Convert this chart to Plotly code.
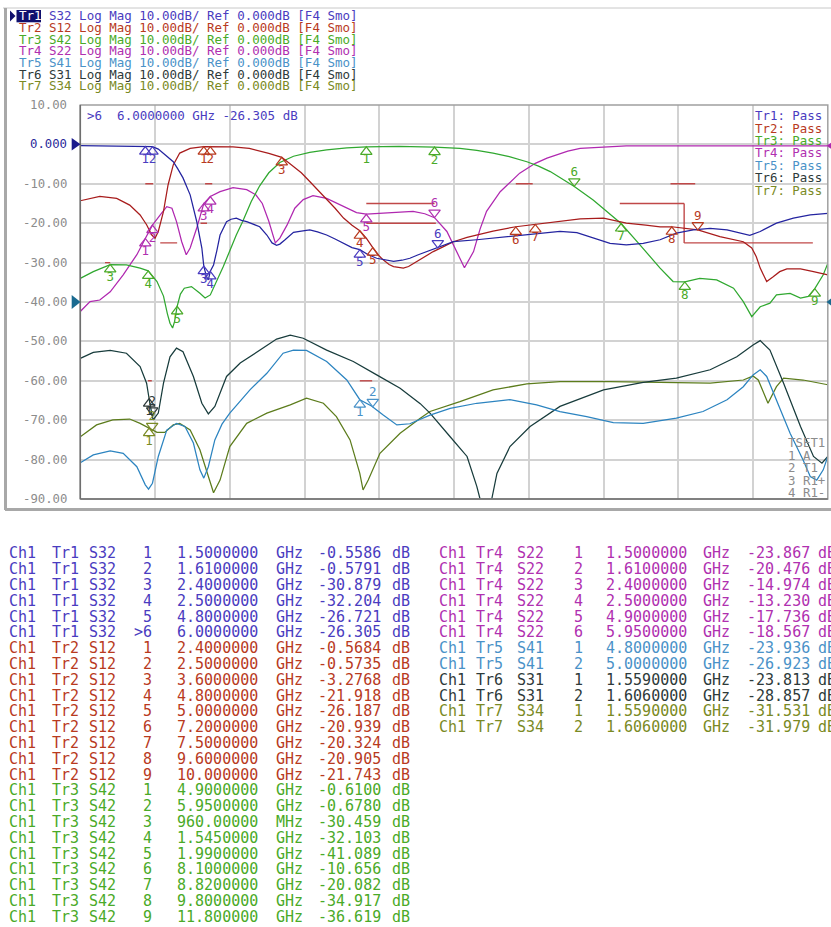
import plotly.graph_objects as go

W, H = 831, 927
MONO = "DejaVu Sans Mono"

# ---------------- axes ----------------
freq_range = [0.5, 12.0]          # GHz
db_range = [-90, 10]              # dB
ytick_vals = [10, 0, -10, -20, -30, -40, -50, -60, -70, -80, -90]
ytick_text = ["10.00", "0.000", "-10.00", "-20.00", "-30.00", "-40.00",
              "-50.00", "-60.00", "-70.00", "-80.00", "-90.00"]

# ---------------- traces ----------------
trace_names = ["Tr1", "Tr2", "Tr3", "Tr4", "Tr5", "Tr6", "Tr7"]
trace_params = ["S32", "S12", "S42", "S22", "S41", "S31", "S34"]
line_colors = ["#2424a0", "#a81c1c", "#30a830", "#b028b0", "#2c84c0", "#183c3c", "#5c7c1c"]
text_colors = ["#4a3cc0", "#b83a1e", "#4aaa28", "#b030b0", "#4a92c8", "#2e3a3a", "#7a8a24"]

tr1_f = [0.5, 0.8, 1.2, 1.5, 1.61, 1.7, 1.77, 1.85, 1.93, 2.0, 2.08, 2.19, 2.29, 2.37, 2.4, 2.44,
         2.47, 2.5, 2.55, 2.6, 2.65, 2.75, 2.82, 2.9, 2.98, 3.06, 3.15, 3.26, 3.37, 3.45, 3.52,
         3.57, 3.65, 3.78, 3.9, 4.03, 4.15, 4.29, 4.42, 4.55, 4.68, 4.8, 4.93, 5.06, 5.2, 5.32,
         5.45, 5.57, 5.7, 5.83, 6.0, 6.24, 6.6, 6.85, 7.1, 7.37, 7.6, 7.88, 8.14, 8.39, 8.65,
         8.9, 9.16, 9.42, 9.67, 9.93, 10.19, 10.45, 10.7, 10.8, 10.96, 11.21, 11.47, 11.73, 12.0]
tr1_v = [-0.3, -0.4, -0.5, -0.56, -0.58, -1.2, -2.2, -3.2, -4.4, -6.2, -8.5, -12.8, -19.5, -26.3,
         -30.9, -33.5, -34.4, -32.2, -30.6, -27.0, -23.0, -19.6, -19.0, -18.7, -19.3, -19.6, -20.2,
         -20.9, -23.0, -25.0, -25.6, -25.3, -24.2, -22.3, -22.0, -21.7, -22.2, -23.0, -24.0, -25.1,
         -26.2, -26.7, -28.0, -28.9, -29.4, -29.7, -29.4, -28.9, -28.0, -27.2, -26.3, -24.7, -24.2,
         -23.8, -23.4, -23.0, -22.5, -22.1, -22.4, -23.8, -25.1, -25.5, -25.1, -24.2, -22.5, -21.7,
         -21.3, -21.7, -22.8, -23.1, -22.1, -20.0, -18.7, -17.9, -17.5]

tr2_f = [0.5, 0.8, 1.06, 1.26, 1.42, 1.52, 1.6, 1.65, 1.7, 1.74, 1.78, 1.85, 1.93, 2.03, 2.19,
         2.4, 2.5, 2.85, 3.1, 3.26, 3.4, 3.6, 3.78, 3.9, 4.03, 4.15, 4.29, 4.42, 4.55, 4.68, 4.8,
         4.9, 5.0, 5.08, 5.16, 5.25, 5.32, 5.4, 5.47, 5.55, 5.68, 5.8, 5.93, 6.08, 6.24, 6.45, 6.6,
         6.85, 7.2, 7.5, 7.88, 8.19, 8.55, 8.9, 9.2, 9.42, 9.6, 10.0, 10.34, 10.7, 10.83, 10.9,
         10.96, 11.06, 11.16, 11.26, 11.37, 11.58, 11.78, 12.0]
tr2_v = [-14.3, -13.2, -13.7, -15.4, -17.9, -20.4, -23.0, -23.8, -22.1, -19.5, -17.0, -10.3, -5.2,
         -2.2, -1.0, -0.57, -0.57, -0.6, -1.0, -1.6, -2.3, -3.28, -5.6, -7.2, -9.4, -11.5, -13.7,
         -16.2, -18.7, -20.5, -21.9, -23.8, -26.2, -28.0, -29.3, -30.5, -31.0, -31.3, -31.4, -31.0,
         -29.7, -28.5, -27.2, -26.0, -24.7, -23.6, -23.0, -22.0, -20.9, -20.3, -19.6, -18.9, -18.7,
         -20.0, -20.5, -20.9, -20.9, -21.7, -23.4, -24.7, -26.3, -28.5, -31.4, -34.8, -33.6, -32.3,
         -31.6, -31.6, -32.3, -33.1]

tr3_f = [0.5, 0.7, 0.96, 1.21, 1.42, 1.545, 1.68, 1.78, 1.84, 1.88, 1.92, 1.95, 1.99, 2.04, 2.1,
         2.21, 2.34, 2.42, 2.5, 2.6, 2.7, 2.8, 2.9, 3.0, 3.13, 3.26, 3.4, 3.57, 3.78, 4.03, 4.29,
         4.6, 4.9, 5.4, 5.95, 6.34, 6.6, 6.85, 7.1, 7.37, 7.55, 7.73, 7.88, 8.1, 8.39, 8.6, 8.82,
         9.11, 9.3, 9.42, 9.62, 9.8, 10.03, 10.29, 10.55, 10.7, 10.83, 10.96, 11.11, 11.21, 11.42,
         11.58, 11.7, 11.8, 11.93, 12.0]
tr3_v = [-34.0, -32.3, -30.5, -30.6, -31.4, -32.1, -34.8, -38.5, -43.0, -45.4, -46.6, -45.0, -41.1,
         -38.0, -36.5, -36.1, -37.8, -39.0, -38.2, -34.8, -31.0, -27.0, -23.0, -19.5, -14.5, -10.5,
         -7.2, -4.6, -3.0, -2.0, -1.4, -0.9, -0.61, -0.5, -0.68, -1.0, -1.5, -2.2, -3.1, -4.4, -5.5,
         -6.9, -8.4, -10.66, -14.1, -17.0, -20.08, -25.5, -29.0, -31.4, -34.8, -34.9, -34.0, -34.4,
         -36.5, -39.9, -43.7, -41.2, -40.3, -38.2, -37.8, -39.0, -38.6, -36.6, -33.1, -30.2]

tr4_f = [0.5, 0.65, 0.8, 0.96, 1.16, 1.37, 1.5, 1.61, 1.73, 1.83, 1.91, 1.98, 2.06, 2.13, 2.19,
         2.29, 2.4, 2.5, 2.65, 2.85, 3.06, 3.2, 3.3, 3.4, 3.5, 3.57, 3.68, 3.8, 3.93, 4.08, 4.29,
         4.55, 4.75, 4.9, 5.1, 5.32, 5.62, 5.8, 5.95, 6.14, 6.29, 6.41, 6.55, 6.65, 6.75, 6.96,
         7.26, 7.5, 7.68, 8.0, 8.19, 8.39, 8.9, 10.0, 12.0]
tr4_v = [-42.4, -39.9, -39.5, -37.4, -33.1, -28.0, -23.9, -20.5, -17.9, -15.8, -16.2, -19.6, -24.7,
         -28.0, -26.3, -21.3, -15.0, -13.2, -12.0, -11.0, -11.5, -12.8, -15.0, -19.5, -25.0, -23.8,
         -20.5, -16.2, -14.0, -13.0, -13.7, -15.8, -17.3, -17.7, -17.5, -17.2, -17.0, -17.6, -18.6,
         -22.1, -27.2, -31.3, -27.2, -21.5, -17.0, -12.0, -7.3, -4.8, -3.5, -1.7, -1.0, -0.8, -0.4,
         -0.4, -0.4]

tr5_f = [0.5, 0.7, 0.96, 1.16, 1.37, 1.5, 1.55, 1.61, 1.7, 1.83, 1.98, 2.11, 2.24, 2.34, 2.4, 2.47,
         2.57, 2.68, 2.8, 3.11, 3.37, 3.62, 3.78, 3.98, 4.29, 4.6, 4.8, 4.98, 5.16, 5.37, 5.57,
         5.88, 6.19, 6.6, 7.11, 7.52, 7.88, 8.29, 8.7, 9.16, 9.67, 10.08, 10.45, 10.7, 10.85, 10.96,
         11.06, 11.21, 11.42, 11.62, 11.73, 11.83, 11.93, 12.0]
tr5_v = [-80.8, -78.8, -77.8, -78.4, -81.8, -86.4, -87.5, -86.0, -79.2, -72.5, -70.8, -71.6, -75.8,
         -82.6, -84.7, -81.8, -75.0, -71.0, -68.2, -62.3, -58.1, -53.0, -52.2, -52.3, -55.1, -59.8,
         -64.8, -66.4, -68.7, -71.2, -70.9, -68.7, -67.0, -65.7, -64.8, -66.1, -67.8, -69.1, -70.6,
         -70.8, -69.5, -67.8, -64.8, -61.5, -58.5, -57.2, -58.9, -64.8, -73.3, -80.1, -84.3, -85.2,
         -82.6, -79.2]

tr6_f = [0.5, 0.7, 0.96, 1.21, 1.42, 1.52, 1.57, 1.62, 1.7, 1.78, 1.88, 1.98, 2.08, 2.24, 2.37,
         2.47, 2.57, 2.75, 2.96, 3.26, 3.52, 3.73, 3.93, 4.29, 4.7, 5.06, 5.42, 5.73, 5.88, 6.19,
         6.45, 6.6, 6.65, 6.83, 6.91, 7.11, 7.42, 7.88, 8.55, 9.16, 9.67, 10.19, 10.6, 10.85, 10.96,
         11.11, 11.32, 11.58, 11.78, 11.91, 12.0]
tr6_v = [-54.3, -52.8, -52.3, -53.0, -56.4, -60.6, -65.7, -69.9, -68.2, -60.6, -53.9, -51.7, -52.6,
         -58.9, -65.7, -68.4, -66.5, -58.9, -55.5, -52.2, -49.4, -48.4, -49.2, -52.2, -55.1, -58.5,
         -61.9, -65.8, -68.2, -74.2, -79.2, -86.8, -90.0, -90.0, -83.5, -76.7, -71.6, -66.5, -62.3,
         -60.4, -59.3, -57.2, -53.9, -50.9, -49.8, -52.2, -60.6, -71.6, -79.2, -80.9, -79.2]

tr7_f = [0.5, 0.75, 1.0, 1.26, 1.42, 1.55, 1.68, 1.8, 1.93, 2.03, 2.19, 2.34, 2.47, 2.55, 2.65, 2.8,
         3.06, 3.37, 3.73, 3.98, 4.24, 4.44, 4.65, 4.8, 4.85, 4.93, 5.11, 5.42, 5.73, 5.88, 6.34,
         6.85, 7.37, 7.88, 8.65, 9.42, 10.19, 10.7, 10.85, 10.93, 11.08, 11.21, 11.32, 11.62, 12.0]
tr7_v = [-74.2, -71.2, -69.9, -69.7, -70.8, -72.0, -73.1, -73.1, -71.2, -70.8, -72.5, -77.5, -84.3,
         -88.4, -85.2, -76.7, -70.8, -68.2, -66.1, -64.4, -65.7, -69.1, -75.0, -83.5, -87.7, -85.2,
         -78.4, -73.3, -69.5, -67.8, -65.3, -62.3, -60.8, -60.2, -60.2, -60.4, -60.6, -59.8, -58.8,
         -59.8, -65.7, -61.5, -59.3, -59.8, -61.0]

trace_f = [tr1_f, tr2_f, tr3_f, tr4_f, tr5_f, tr6_f, tr7_f]
trace_v = [tr1_v, tr2_v, tr3_v, tr4_v, tr5_v, tr6_v, tr7_v]

# ---------------- markers (table values) ----------------
tr1_mk_f = [1.5, 1.61, 2.4, 2.5, 4.8, 6.0]
tr1_mk_v = [-0.5586, -0.5791, -30.879, -32.204, -26.721, -26.305]
tr2_mk_f = [2.4, 2.5, 3.6, 4.8, 5.0, 7.2, 7.5, 9.6, 10.0]
tr2_mk_v = [-0.5684, -0.5735, -3.2768, -21.918, -26.187, -20.939, -20.324, -20.905, -21.743]
tr3_mk_f = [4.9, 5.95, 0.96, 1.545, 1.99, 8.1, 8.82, 9.8, 11.8]
tr3_mk_v = [-0.6100, -0.6780, -30.459, -32.103, -41.089, -10.656, -20.082, -34.917, -36.619]
tr4_mk_f = [1.5, 1.61, 2.4, 2.5, 4.9, 5.95]
tr4_mk_v = [-23.867, -20.476, -14.974, -13.230, -17.736, -18.567]
tr5_mk_f = [4.8, 5.0]
tr5_mk_v = [-23.936, -26.923]
tr6_mk_f = [1.559, 1.606]
tr6_mk_v = [-23.813, -28.857]
tr7_mk_f = [1.559, 1.606]
tr7_mk_v = [-31.531, -31.979]
# positions of the on-screen markers for Tr5..Tr7 as drawn
tr5_mk_plot_v = [-64.8, -66.6]
tr6_mk_plot_v = [-64.5, -68.8]
tr7_mk_plot_v = [-72.0, -72.7]
active_marker = [5, 8, 5, 5, 1, 1, 1]

mk_f = [tr1_mk_f, tr2_mk_f, tr3_mk_f, tr4_mk_f, tr5_mk_f, tr6_mk_f, tr7_mk_f]
mk_v = [tr1_mk_v, tr2_mk_v, tr3_mk_v, tr4_mk_v, tr5_mk_v, tr6_mk_v, tr7_mk_v]
mk_plot_v = [tr1_mk_v, tr2_mk_v, tr3_mk_v, tr4_mk_v, tr5_mk_plot_v, tr6_mk_plot_v, tr7_mk_plot_v]

# limit-line segments (GHz start, GHz end, dB start, dB end)
lim_f1 = [1.5, 2.42, 0.88, 1.73, 2.35, 4.9, 4.9, 7.2, 9.58, 8.8, 9.79, 9.79, 1.54, 4.8]
lim_f2 = [1.62, 2.53, 0.96, 1.99, 2.45, 5.95, 5.97, 7.46, 9.96, 9.79, 9.79, 11.77, 1.60, 4.99]
lim_v1 = [-10, -10, -30, -25, -20, -15, -20, -10, -10, -15, -15, -25, -60, -60]
lim_v2 = [-10, -10, -30, -25, -20, -15, -20, -10, -10, -15, -25, -25, -60, -60]

tset_lines = ["TSET1", "1 A", "2 T1", "3 R1+", "4 R1-"]
readout = ">6  6.0000000 GHz -26.305 dB"

# ---------------- pixel helpers (layout only) ----------------
PX0, PX1, PY0, PY1 = 80.3, 827.8, 105.0, 499.0


def xp(x):
    return x / W


def yp(y):
    return 1 - y / H


def ann(x, y, text, color, size, xanchor="left"):
    return dict(x=xp(x), y=yp(y), xref="paper", yref="paper", text=text,
                showarrow=False, xanchor=xanchor, yanchor="middle", borderpad=0,
                font=dict(family=MONO, size=size, color=color))


fig = go.Figure()

# limit lines
lx, ly = [], []
for a, b, c, d in zip(lim_f1, lim_f2, lim_v1, lim_v2):
    lx += [a, b, None]
    ly += [c, d, None]
fig.add_trace(go.Scatter(x=lx, y=ly, mode="lines", line=dict(color="#c04848", width=1.4),
                         hoverinfo="skip", showlegend=False))

# traces (draw Tr7..Tr1 so Tr1 is on top)
for i in reversed(range(7)):
    fig.add_trace(go.Scatter(x=trace_f[i], y=trace_v[i], mode="lines",
                             line=dict(color=line_colors[i], width=1.25),
                             name=trace_names[i], showlegend=False))

# on-plot markers
for i in range(7):
    n = len(mk_f[i])
    act = active_marker[i]
    labels = [str(k + 1) for k in range(n)]
    angles = [180 if k == act else 0 for k in range(n)]
    tpos = ["top center" if k == act else "bottom center" for k in range(n)]
    fig.add_trace(go.Scatter(
        x=mk_f[i], y=mk_plot_v[i], mode="markers+text", text=labels, textposition=tpos,
        marker=dict(symbol="triangle-up-open", size=10, color=text_colors[i],
                    angle=angles, standoff=5, line=dict(width=1.2, color=text_colors[i])),
        textfont=dict(family=MONO, size=12.5, color=text_colors[i]),
        cliponaxis=False, hoverinfo="skip", showlegend=False))

# marker indicator row under the grid
for i in range(7):
    n = len(mk_f[i])
    act = active_marker[i]
    syms = ["triangle-up" if k == act else "triangle-up-open" for k in range(n)]
    fig.add_trace(go.Scatter(
        x=mk_f[i], y=[-91.6] * n, mode="markers",
        marker=dict(symbol=syms, size=12, color=line_colors[i],
                    line=dict(width=1, color=line_colors[i]), opacity=0.75),
        cliponaxis=False, hoverinfo="skip", showlegend=False))

annotations = []
# y tick labels
for v, t in zip(ytick_vals, ytick_text):
    col = "#2a2a9a" if v == 0 else "#8c8c8c"
    annotations.append(dict(x=xp(67.5), y=v, xref="paper", yref="y", text=t, showarrow=False,
                            xanchor="right", yanchor="middle", borderpad=0,
                            font=dict(family=MONO, size=12.3, color=col)))

# header lines
for i in range(7):
    y = 16 + 11.65 * i
    rest = f"{trace_params[i]} Log Mag 10.00dB/ Ref 0.000dB [F4 Smo]"
    tcol = "#ffffff" if i == 0 else text_colors[i]
    annotations.append(ann(17.5, y, trace_names[i], tcol, 12.5))
    annotations.append(ann(47.8, y, rest, text_colors[i], 12.5))

# readout
annotations.append(ann(85.5, 115, readout, "#4a3cc0", 12.5))

# pass legend
for i in range(7):
    annotations.append(ann(753.5, 115.7 + 12.4 * i, f"{trace_names[i]}: Pass", text_colors[i], 12.4))

# TSET block
for i, t in enumerate(tset_lines):
    annotations.append(ann(787, 442.7 + 12.5 * i, t, "#8c8c8c", 12.4))


# marker table
def fmt_freq(f):
    if f < 1:
        val, unit = f * 1000, "MHz"
    else:
        val, unit = f, "GHz"
    ip = len(str(int(val)))
    return f"{val:.{8 - ip}f}", unit


def fmt_db(v):
    ip = len(str(int(abs(v))))
    return f"{v:.{5 - ip}f}"


left_cols = dict(ch=7.5, tr=51, s=87.5, num=153, fr=176, unit=274.5, val=382, db=391)
right_cols = dict(ch=437.5, tr=474.5, s=516, num=584, fr=604.5, unit=702, val=811, db=817)
rows_left = [0, 1, 2]
rows_right = [3, 4, 5, 6]


def add_table(trace_ids, cols):
    r = 0
    for i in trace_ids:
        for k in range(len(mk_f[i])):
            y = 553.3 + 15.8 * r
            c = text_colors[i]
            fz = 15
            num = (">" if k == active_marker[i] and i == 0 else "") + str(k + 1)
            fs, unit = fmt_freq(mk_f[i][k])
            annotations.append(ann(cols["ch"], y, "Ch1", c, fz))
            annotations.append(ann(cols["tr"], y, trace_names[i], c, fz))
            annotations.append(ann(cols["s"], y, trace_params[i], c, fz))
            annotations.append(ann(cols["num"], y, num, c, fz, xanchor="right"))
            annotations.append(ann(cols["fr"], y, fs, c, fz))
            annotations.append(ann(cols["unit"], y, unit, c, fz))
            annotations.append(ann(cols["val"], y, fmt_db(mk_v[i][k]), c, fz, xanchor="right"))
            annotations.append(ann(cols["db"], y, "dB", c, fz))
            r += 1


add_table(rows_left, left_cols)
add_table(rows_right, right_cols)

shapes = []
# outer frame
shapes.append(dict(type="line", xref="paper", yref="paper", x0=xp(3), x1=xp(831), y0=yp(8), y1=yp(8),
                   line=dict(color="#c8c8c8", width=1)))
shapes.append(dict(type="line", xref="paper", yref="paper", x0=xp(5.5), x1=xp(5.5), y0=yp(8), y1=yp(510),
                   line=dict(color="#a8a8a8", width=3)))
shapes.append(dict(type="line", xref="paper", yref="paper", x0=xp(5), x1=xp(831), y0=yp(509.5), y1=yp(509.5),
                   line=dict(color="#a8a8a8", width=3)))
# plot border
shapes.append(dict(type="rect", xref="paper", yref="paper", x0=xp(PX0), x1=xp(PX1), y0=yp(PY1), y1=yp(PY0),
                   line=dict(color="#a0a0a0", width=1.5), layer="above"))
shapes.append(dict(type="line", xref="paper", yref="paper", x0=xp(PX0), x1=xp(PX0), y0=yp(PY1), y1=yp(PY0),
                   line=dict(color="#6e6e6e", width=1.5), layer="above"))
shapes.append(dict(type="line", xref="paper", yref="paper", x0=xp(PX0), x1=xp(PX1), y0=yp(PY1), y1=yp(PY1),
                   line=dict(color="#6e6e6e", width=1.5), layer="above"))


def tri_path(x0, x1, yc, h, right=True):
    if right:
        return f"M {xp(x0)} {yp(yc - h)} L {xp(x1)} {yp(yc)} L {xp(x0)} {yp(yc + h)} Z"
    return f"M {xp(x1)} {yp(yc - h)} L {xp(x0)} {yp(yc)} L {xp(x1)} {yp(yc + h)} Z"


# reference-position arrows
shapes.append(dict(type="path", xref="paper", yref="paper", path=tri_path(71.7, 80.5, 144.3, 6.3),
                   fillcolor="#1a1a8c", line=dict(width=0)))
shapes.append(dict(type="path", xref="paper", yref="paper", path=tri_path(71.7, 80.5, 302, 7),
                   fillcolor="#1a6a90", line=dict(width=0)))
shapes.append(dict(type="path", xref="paper", yref="paper", path=tri_path(826.5, 831, 145.8, 3, right=False),
                   fillcolor="#b028b0", line=dict(width=0)))
shapes.append(dict(type="path", xref="paper", yref="paper", path=tri_path(826.5, 831, 302, 3.5, right=False),
                   fillcolor="#1a6a90", line=dict(width=0)))
# Tr1 header highlight
shapes.append(dict(type="rect", xref="paper", yref="paper", x0=xp(16.5), x1=xp(41), y0=yp(22.3), y1=yp(10),
                   fillcolor="#10106e", line=dict(width=0), layer="below"))
shapes.append(dict(type="path", xref="paper", yref="paper", path=tri_path(10, 15.5, 16, 5.5),
                   fillcolor="#10106e", line=dict(width=0)))

fig.update_layout(
    width=W, height=H, autosize=False,
    margin=dict(l=0, r=0, t=0, b=0),
    paper_bgcolor="white", plot_bgcolor="white",
    showlegend=False,
    xaxis=dict(domain=[xp(PX0), xp(PX1)], range=freq_range, showticklabels=False,
               showgrid=True, gridcolor="#d2d2d2", gridwidth=1.5, tick0=0.5, dtick=1.15,
               zeroline=False, ticks=""),
    yaxis=dict(domain=[yp(PY1), yp(PY0)], range=db_range, showticklabels=False,
               showgrid=True, gridcolor="#d2d2d2", gridwidth=1.5, tick0=0, dtick=10,
               zeroline=False, ticks=""),
    annotations=annotations,
    shapes=shapes,
)

fig.write_html("out.html", config={"displayModeBar": False},
               post_script="document.body.style.margin='0';document.body.style.overflow='hidden';")
